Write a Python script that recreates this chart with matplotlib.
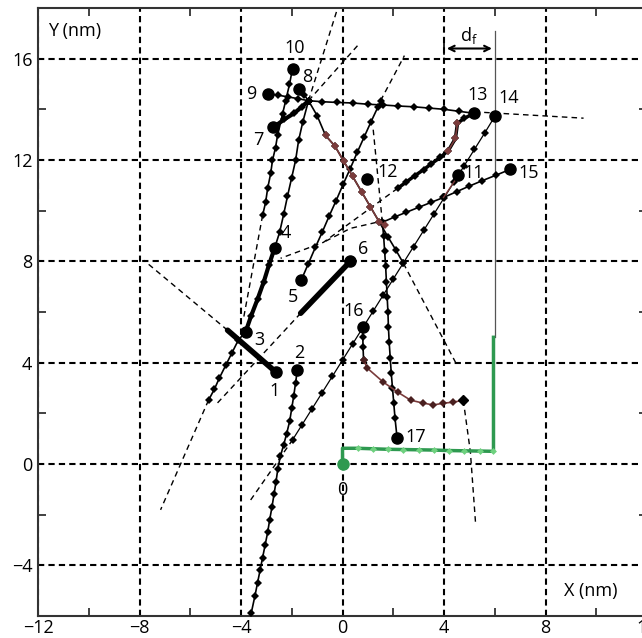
import matplotlib
matplotlib.use("Agg")
import matplotlib.pyplot as plt
from matplotlib.ticker import MultipleLocator

plt.rcParams['font.family'] = ['Open Sans', 'DejaVu Sans']

# tracked positions (nm), one array pair per track
t9_x = [-2.95, -2.55, -2.15, -1.75, -1.34]
t9_y = [14.62, 14.56, 14.49, 14.42, 14.34]

t8_x = [-1.73, -1.52, -1.34]
t8_y = [14.82, 14.58, 14.34]

t10_x = [-1.97, -2.09, -2.24, -2.36, -2.56, -2.64, -2.76, -2.83, -2.95, -3.03, -3.15]
t10_y = [15.61, 14.98, 14.34, 13.83, 12.97, 12.49, 11.98, 11.47, 10.88, 10.33, 9.81]
t10_ext_x = [-3.15, -3.90]
t10_ext_y = [9.81, 5.75]

t7_x = [-2.72, -2.30, -1.90, -1.60, -1.34]
t7_y = [13.29, 13.60, 13.85, 14.10, 14.34]

t4_x = [-2.68, -2.48, -2.32, -2.17, -2.01, -1.85, -1.73, -1.57, -1.34]
t4_y = [8.51, 9.14, 9.85, 10.56, 11.27, 11.98, 12.77, 13.48, 14.34]

t3_thick_x = [-2.68, -2.90, -3.10, -3.35, -3.60, -3.82]
t3_thick_y = [8.51, 7.85, 7.20, 6.50, 5.85, 5.21]
t3_x = [-3.82, -4.10, -4.35, -4.60, -4.85, -5.05, -5.28]
t3_y = [5.21, 4.90, 4.40, 3.90, 3.40, 2.95, 2.52]
t3_ext_x = [-5.28, -7.17]
t3_ext_y = [2.52, -1.81]

t1_x = [-2.64, -4.53]
t1_y = [3.64, 5.28]
t1_ext_x = [-4.53, -7.83]
t1_ext_y = [5.28, 8.04]

t6_x = [0.31, -1.65]
t6_y = [8.00, 5.95]
t6_ext_x = [-1.65, -5.00]
t6_ext_y = [5.95, 2.33]

t2_x = [-1.78, -1.85, -1.92, -2.00, -2.08, -2.20, -2.32, -2.45, -2.55, -2.62,
        -2.70, -2.78, -2.87, -2.95, -3.05, -3.15, -3.25, -3.35, -3.45, -3.60]
t2_y = [3.70, 3.20, 2.70, 2.20, 1.70, 1.20, 0.75, 0.30, -0.20, -0.70,
        -1.20, -1.70, -2.20, -2.70, -3.20, -3.70, -4.20, -4.70, -5.20, -5.90]

t5_x = [-1.63, -1.35, -1.07, -0.80, -0.52, -0.25, 0.03, 0.30, 0.58, 0.85, 1.12, 1.40, 1.50]
t5_y = [7.25, 7.90, 8.55, 9.15, 9.80, 10.40, 11.05, 11.65, 12.30, 12.90, 13.50, 14.10, 14.34]
t5_ext_x = [1.50, 2.44]
t5_ext_y = [14.34, 16.12]

top_x = [-1.34, -0.80, -0.20, 0.40, 1.00, 1.60, 2.20, 2.80, 3.40, 4.00, 4.60, 5.20]
top_y = [14.34, 14.30, 14.27, 14.25, 14.20, 14.17, 14.13, 14.10, 14.05, 14.00, 13.92, 13.84]
top_ext_x = [5.20, 9.50]
top_ext_y = [13.90, 13.65]

diag_x = [-1.34, -1.00, -0.67, -0.30, 0.05, 0.40, 0.75, 1.10, 1.45, 1.80, 2.10, 2.40]
diag_y = [14.34, 13.75, 12.97, 12.55, 11.95, 11.35, 10.75, 10.15, 9.55, 8.95, 8.45, 7.92]
diag_red_x = [-0.67, -0.30, 0.05, 0.40, 0.75, 1.10, 1.45, 1.69]
diag_red_y = [12.97, 12.55, 11.95, 11.35, 10.75, 10.15, 9.55, 9.42]
diag_ext_x = [2.40, 4.45]
diag_ext_y = [7.92, 4.02]

t17_x = [1.57, 1.62, 1.66, 1.70, 1.73, 1.76, 1.79, 1.81, 1.84, 1.88, 1.92, 1.97, 2.02, 2.07, 2.15]
t17_y = [9.54, 9.00, 8.40, 7.80, 7.20, 6.60, 6.00, 5.40, 4.80, 4.20, 3.60, 3.00, 2.40, 1.80, 1.04]
t17_ext_x = [1.57, 1.20]
t17_ext_y = [9.54, 13.30]

t15_x = [1.57, 2.05, 2.50, 3.00, 3.50, 3.98, 4.50, 5.00, 5.50, 6.05, 6.61]
t15_y = [9.54, 9.75, 9.93, 10.13, 10.33, 10.52, 10.75, 10.97, 11.18, 11.40, 11.63]
t11_red_x = [3.98, 4.57]
t11_red_y = [10.52, 11.39]

t14_x = [-1.97, -1.60, -1.20, -0.80, -0.40, 0.00, 0.40, 0.80, 1.20, 1.60, 2.00,
         2.40, 2.80, 3.20, 3.60, 4.00, 4.40, 4.80, 5.20, 5.60, 6.02]
t14_y = [0.95, 1.54, 2.18, 2.82, 3.46, 4.10, 4.74, 5.38, 6.02, 6.66, 7.30,
         7.94, 8.58, 9.22, 9.86, 10.50, 11.14, 11.78, 12.42, 13.06, 13.75]
t14_ext_x = [-3.62, -1.97]
t14_ext_y = [-1.42, 0.95]

t13_x = [2.17, 2.50, 2.85, 3.20, 3.50, 3.85, 4.17, 4.45, 4.53, 4.80, 5.20]
t13_y = [10.88, 11.12, 11.38, 11.62, 11.85, 12.10, 12.37, 12.85, 13.44, 13.65, 13.84]
t13_red_x = [4.17, 4.45, 4.53]
t13_red_y = [12.37, 12.85, 13.44]
t13_ext_x = [2.17, -0.75, -2.44]
t13_ext_y = [10.88, 8.75, 8.12]
t12_ext_x = [1.69, 0.31, -0.75]
t12_ext_y = [9.62, 9.30, 8.75]

t16_x = [0.79, 0.80, 0.81, 0.83]
t16_y = [5.41, 5.00, 4.60, 4.10]
t16_red_x = [0.83, 0.98, 1.61, 2.17, 2.68, 3.19, 3.58, 3.98, 4.37, 4.76]
t16_red_y = [4.10, 3.78, 3.23, 2.84, 2.52, 2.40, 2.33, 2.40, 2.44, 2.52]
t16_ext_x = [4.76, 5.04, 5.24]
t16_ext_y = [2.52, 0.47, -2.29]

hub_rays_x = [[-1.34, -0.20], [-1.34, 0.59]]
hub_rays_y = [[14.34, 17.97], [14.34, 16.51]]

green_x = [0.00, 0.00, 0.60, 1.20, 1.80, 2.40, 3.00, 3.60, 4.20, 4.80, 5.40, 5.95, 5.95]
green_y = [0.00, 0.62, 0.62, 0.60, 0.58, 0.57, 0.56, 0.55, 0.53, 0.52, 0.51, 0.50, 5.00]

ref_x = [6.0, 6.0]
ref_y = [5.0, 17.1]

# labelled start points
pt_names = ['1', '2', '3', '4', '5', '6', '7', '8', '9', '10',
            '11', '12', '13', '14', '15', '16', '17']
pt_x = [-2.64, -1.78, -3.82, -2.68, -1.63, 0.31, -2.72, -1.73, -2.95, -1.97,
        4.57, 0.98, 5.20, 6.02, 6.61, 0.79, 2.15]
pt_y = [3.64, 3.70, 5.21, 8.51, 7.25, 8.00, 13.29, 14.82, 14.62, 15.60,
        11.39, 11.23, 13.84, 13.75, 11.63, 5.41, 1.04]
lab_x = [-2.68, -1.69, -3.28, -2.25, -1.97, 0.82, -3.31, -1.38, -3.58, -1.89,
         5.15, 1.78, 5.31, 6.55, 7.35, 0.45, 2.88]
lab_y = [2.90, 4.40, 4.89, 9.12, 6.58, 8.50, 12.77, 15.28, 14.62, 16.42,
         11.50, 11.52, 14.56, 14.44, 11.50, 6.02, 1.08]

fig = plt.figure(figsize=(6.42, 6.38), dpi=100)
ax = fig.add_axes([0.0592, 0.0345, 0.9486, 0.953])

dash = (0, (4, 3))
mk = dict(marker='D', markersize=4, color='k', markerfacecolor='k', markeredgewidth=0)
red = '#7a3b3b'

def track(x, y, lw=1.2, **kw):
    opts = dict(mk)
    opts.update(kw)
    ax.plot(x, y, lw=lw, zorder=4, **opts)

def dashed(x, y, lw=1.0):
    ax.plot(x, y, color='k', lw=lw, ls=dash, zorder=3)

# dashed extrapolations
for xs, ys in [(t10_ext_x, t10_ext_y), (t3_ext_x, t3_ext_y), (t1_ext_x, t1_ext_y),
               (t6_ext_x, t6_ext_y), (t5_ext_x, t5_ext_y), (top_ext_x, top_ext_y),
               (diag_ext_x, diag_ext_y), (t17_ext_x, t17_ext_y), (t14_ext_x, t14_ext_y),
               (t13_ext_x, t13_ext_y), (t12_ext_x, t12_ext_y), (t16_ext_x, t16_ext_y)]:
    dashed(xs, ys)
for xs, ys in zip(hub_rays_x, hub_rays_y):
    dashed(xs, ys)

ax.plot(ref_x, ref_y, color='#555555', lw=0.9, zorder=3)

# tracks with diamond markers
track(t9_x, t9_y)
track(t8_x, t8_y)
track(t10_x, t10_y)
track(t7_x, t7_y, lw=3)
track(t4_x, t4_y)
track(t3_thick_x, t3_thick_y, lw=3)
track(t3_x, t3_y)
ax.plot(t1_x, t1_y, color='k', lw=4, solid_capstyle='round', zorder=4)
ax.plot(t6_x, t6_y, color='k', lw=4, solid_capstyle='round', zorder=4)
track(t2_x, t2_y)
track(t5_x, t5_y)
track(top_x, top_y)
track(diag_x, diag_y)
ax.plot(diag_red_x, diag_red_y, color=red, lw=1.2, marker='D', markersize=4,
        markerfacecolor=red, markeredgewidth=0, zorder=5)
track(t17_x, t17_y)
track(t15_x, t15_y)
ax.plot(t11_red_x, t11_red_y, color=red, lw=1.0, zorder=5)
track(t14_x, t14_y, lw=0.9)
track(t13_x, t13_y, lw=2.5)
ax.plot(t13_red_x, t13_red_y, color=red, lw=1.2, marker='D', markersize=4,
        markerfacecolor=red, markeredgewidth=0, zorder=5)
track(t16_x, t16_y)
ax.plot(t16_red_x, t16_red_y, color=red, lw=1.2, marker='D', markersize=4.5,
        markerfacecolor='#4a2020', markeredgewidth=0, zorder=5)
ax.plot(t16_red_x[-1], t16_red_y[-1], 'kD', markersize=5, zorder=6)

# green reference path
ax.plot(green_x, green_y, color='#2e9950', lw=2.5, zorder=6)
ax.plot(green_x[2:-1], green_y[2:-1], ls='none', marker='D', markersize=3.5,
        color='#6fd17f', markeredgewidth=0, zorder=7)
ax.plot(green_x[0], green_y[0], 'o', color='#2e9950', markersize=8, zorder=7)
ax.text(0, -1.02, '0', fontsize=13, ha='center', va='center')

# start points and their numbers
ax.plot(pt_x, pt_y, 'o', color='k', markersize=8, zorder=8, ls='none')
for name, lx, ly in zip(pt_names, lab_x, lab_y):
    ax.text(lx, ly, name, fontsize=13, ha='center', va='center', zorder=9)

# d_f marker
ax.annotate('', xy=(4.0, 16.4), xytext=(6.0, 16.4),
            arrowprops=dict(arrowstyle='<->', color='k', lw=1.5))
ax.plot([4.0, 4.0], [16.2, 16.6], color='k', lw=1.2)
ax.text(5.0, 16.9, '$\\mathregular{d_f}$', fontsize=13, ha='center', va='center')

ax.text(-11.6, 17.1, 'Y (nm)', fontsize=13, ha='left', va='center')
ax.text(9.8, -5.0, 'X (nm)', fontsize=13, ha='center', va='center')

ax.set_xlim(-12, 12)
ax.set_ylim(-6, 18)
ax.set_xticks([-12, -8, -4, 0, 4, 8, 12])
ax.set_xticklabels(['\u221212', '\u22128', '\u22124', '0', '4', '8', '12'])
ax.set_yticks([-4, 0, 4, 8, 12, 16])
ax.set_yticklabels(['\u22124', '0', '4', '8', '12', '16'])
ax.xaxis.set_minor_locator(MultipleLocator(2))
ax.yaxis.set_minor_locator(MultipleLocator(2))
ax.tick_params(which='both', direction='in', top=True, right=True,
               labelsize=13, width=1.3, color='#333333')
ax.tick_params(which='major', length=0, pad=4)
ax.tick_params(axis='x', which='major', pad=2)
ax.tick_params(which='minor', length=6)
ax.grid(True, which='major', color='k', lw=1.5, ls=(0, (3, 2)), zorder=1)
ax.set_axisbelow(True)
for s in ax.spines.values():
    s.set_linewidth(1.5)
    s.set_color('#333333')

fig.savefig('out.png', dpi=100)
